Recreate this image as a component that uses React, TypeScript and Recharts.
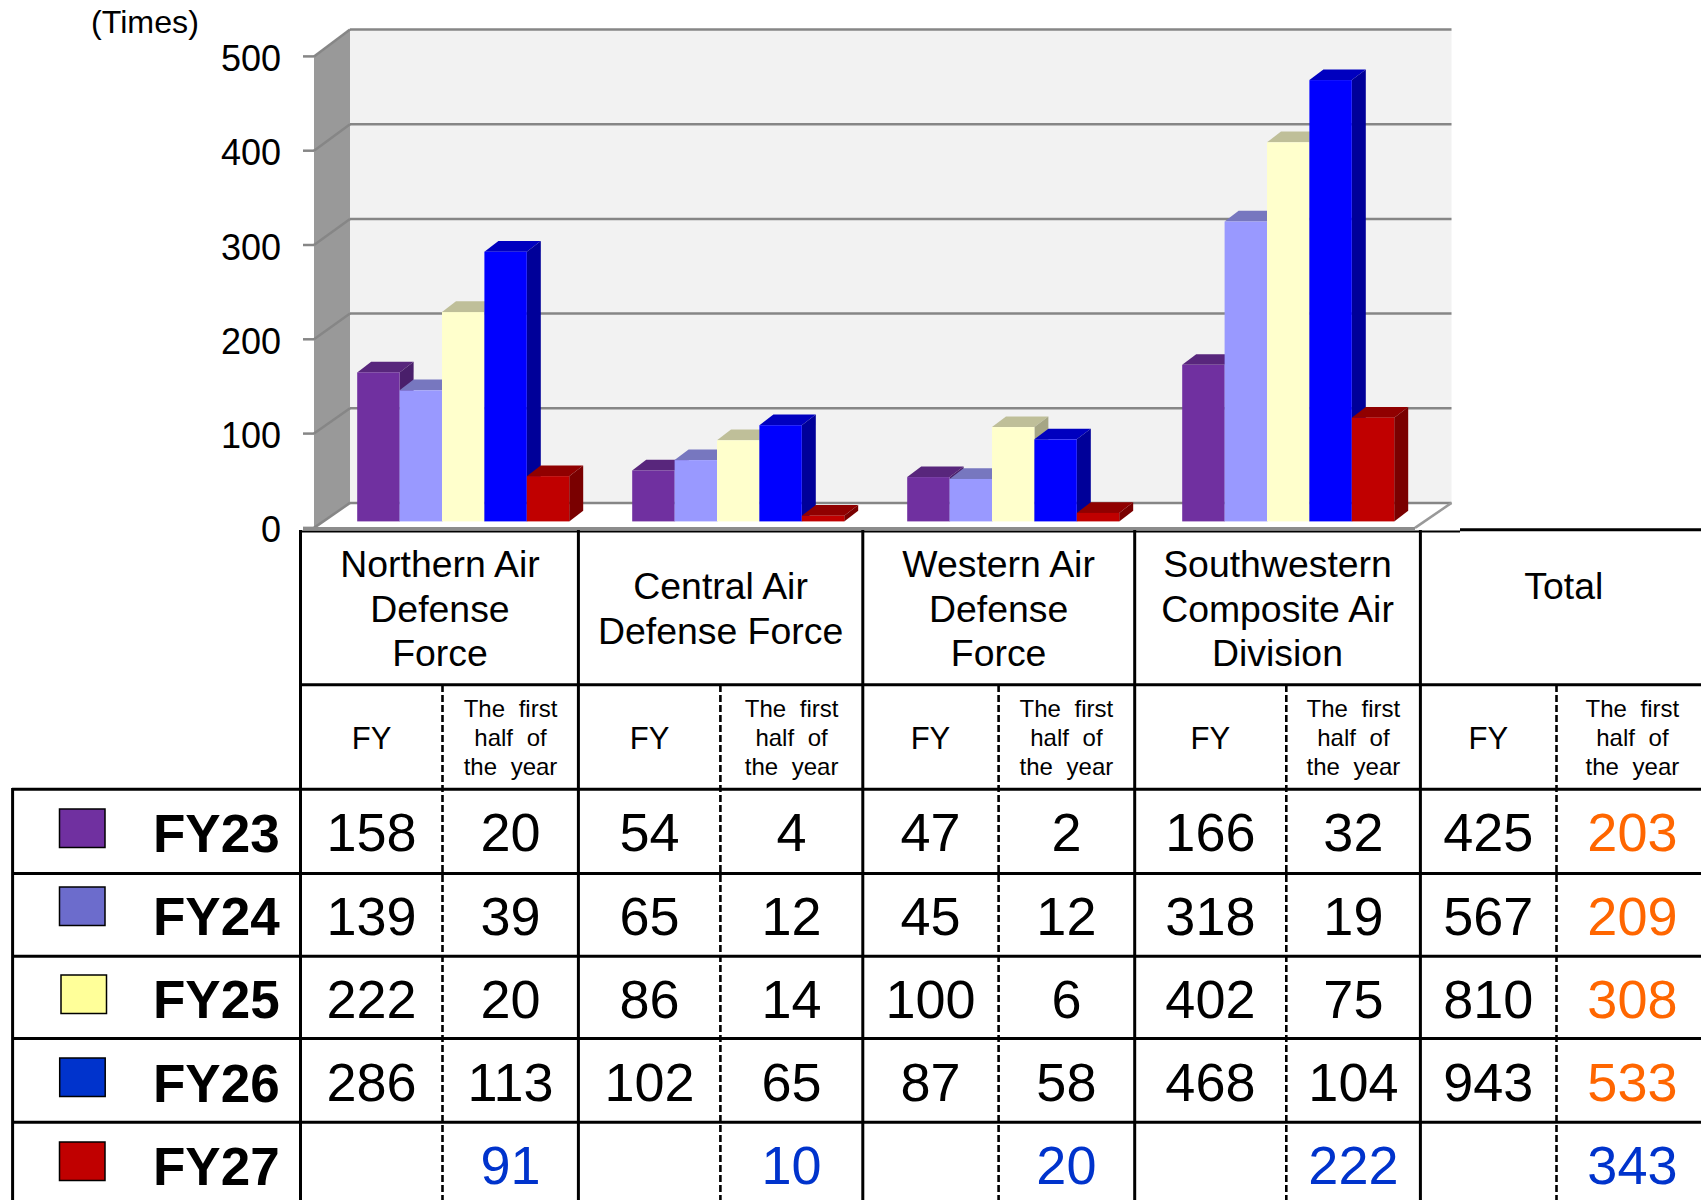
import { BarChart, Bar, XAxis, YAxis } from 'recharts';

const categories = ['Northern', 'Central', 'Western', 'Southwestern'];
const fy23 = [158, 54, 47, 166];
const fy24 = [139, 65, 45, 318];
const fy25 = [222, 86, 100, 402];
const fy26 = [286, 102, 87, 468];
const fy27 = [48, 6, 9, 110];
const yTicks = [0, 100, 200, 300, 400, 500];

const groupHeaders = [
  ['Northern Air', 'Defense', 'Force'],
  ['Central Air', 'Defense Force'],
  ['Western Air', 'Defense', 'Force'],
  ['Southwestern', 'Composite Air', 'Division'],
  ['Total'],
];
const halfLabel = ['The first', 'half of', 'the year'];
const rowLabels = ['FY23', 'FY24', 'FY25', 'FY26', 'FY27'];
const row23 = ['158', '20', '54', '4', '47', '2', '166', '32', '425', '203'];
const row24 = ['139', '39', '65', '12', '45', '12', '318', '19', '567', '209'];
const row25 = ['222', '20', '86', '14', '100', '6', '402', '75', '810', '308'];
const row26 = ['286', '113', '102', '65', '87', '58', '468', '104', '943', '533'];
const row27 = ['', '91', '', '10', '', '20', '', '222', '', '343'];
const tableRows = [row23, row24, row25, row26, row27];

const FONT = '"Liberation Sans", Arial, sans-serif';
const BLUE_TXT = '#0033cc';
const ORANGE_TXT = '#ff6600';

const data = categories.map((name, i) => ({
  name,
  fy23: fy23[i],
  fy24: fy24[i],
  fy25: fy25[i],
  fy26: fy26[i],
  fy27: fy27[i],
}));

// front, top and side colours of each series
const barColors = [
  { key: 'fy23', front: '#7030a0', top: '#58267c', side: '#4a1f6b' },
  { key: 'fy24', front: '#9999ff', top: '#7777bf', side: '#666699' },
  { key: 'fy25', front: '#ffffcc', top: '#bfbf99', side: '#a6a685' },
  { key: 'fy26', front: '#0000ff', top: '#0000bf', side: '#000099' },
  { key: 'fy27', front: '#c00000', top: '#900000', side: '#7a0000' },
];
const legendBoxes = [
  { x: 59.5, y: 809, fill: '#7030a0' },
  { x: 59.5, y: 887, fill: '#6c6ccc' },
  { x: 61, y: 975, fill: '#ffff99' },
  { x: 59.7, y: 1058, fill: '#0033cc' },
  { x: 59.5, y: 1142, fill: '#c00000' },
];

const DEPTH_X = 14;
const DEPTH_Y = 10.7;

const Bar3D = (props: any) => {
  const { x, y, width, height, colors } = props;
  const r = x + width;
  const b = y + height;
  return (
    <g>
      <polygon
        points={`${x},${y} ${x + DEPTH_X},${y - DEPTH_Y} ${r + DEPTH_X},${y - DEPTH_Y} ${r},${y}`}
        fill={colors.top}
      />
      <polygon
        points={`${r},${y} ${r + DEPTH_X},${y - DEPTH_Y} ${r + DEPTH_X},${b - DEPTH_Y} ${r},${b}`}
        fill={colors.side}
      />
      <rect x={x} y={y} width={width} height={height} fill={colors.front} />
    </g>
  );
};

// value axis labels sit on the front edge of the left wall
const YTick = (props: any) => {
  const { y, payload } = props;
  return (
    <text x={281} y={y + 21} textAnchor="end" fontSize={36} fontFamily={FONT} fill="#000">
      {payload.value}
    </text>
  );
};

// walls and floor of the 3d box
const Walls = () => {
  const frontY = (v: number) => 527.9 - v * 0.943;
  const backY = (v: number) => 502.9 - v * 0.9466;
  return (
    <svg width={1701} height={1200} style={{ position: 'absolute', left: 0, top: 0 }}>
      <polygon points={`350,${backY(500)} 1451.5,${backY(500)} 1451.5,${backY(0)} 350,${backY(0)}`} fill="#f2f2f2" />
      <polygon points={`314,${frontY(500)} 350,${backY(500)} 350,${backY(0)} 314,${frontY(0)}`} fill="#999999" />
      {yTicks.map((t) => (
        <g key={t} stroke="#868686" strokeWidth={2.5} fill="none">
          <line x1={303} y1={frontY(t)} x2={314} y2={frontY(t)} />
          <line x1={314} y1={frontY(t)} x2={350} y2={backY(t)} />
          <line x1={350} y1={backY(t)} x2={1451.5} y2={backY(t)} />
        </g>
      ))}
      <line x1={1415} y1={frontY(0)} x2={1451.5} y2={backY(0)} stroke="#999" strokeWidth={2.5} />
      <line x1={303} y1={528.5} x2={1415} y2={528.5} stroke="#8c8c8c" strokeWidth={3} />
    </svg>
  );
};

const solidX = [300.5, 578.4, 862.8, 1134.7, 1420.4];
const dashX = [442.5, 720.4, 998.6, 1286.3, 1556.5];
const rowY = [789.3, 873.4, 956.3, 1038.6, 1122.3];
const fyCenters = [371.6, 649.6, 930.5, 1210.4, 1488.3];
const halfCenters = [510.5, 791.6, 1066.4, 1353.4, 1632.4];
const groupCenters = [440, 720.6, 998.6, 1277.5, 1563.8];
const numBaseline = [851, 935, 1018, 1101, 1184];
const labelBaseline = [851.7, 935, 1018, 1102, 1185];

const Table = () => (
  <svg width={1701} height={1200} style={{ position: 'absolute', left: 0, top: 0 }} fontFamily={FONT}>
    <g stroke="#000" strokeWidth={3}>
      <line x1={300} y1={531.5} x2={1460} y2={531.5} strokeWidth={2} />
      <line x1={1460} y1={529.7} x2={1701} y2={529.7} />
      <line x1={300} y1={684.8} x2={1701} y2={684.8} />
      {rowY.map((y) => (
        <line key={y} x1={12} y1={y} x2={1701} y2={y} />
      ))}
      <line x1={12.6} y1={788} x2={12.6} y2={1200} />
      {solidX.map((x) => (
        <line key={x} x1={x} y1={530} x2={x} y2={1200} />
      ))}
      {dashX.map((x) => (
        <line key={x} x1={x} y1={685} x2={x} y2={1200} strokeWidth={2.6} strokeDasharray="7 3" />
      ))}
    </g>

    {groupHeaders.map((lines, g) => {
      const firstBase = lines.length === 3 ? 577 : 599;
      return lines.map((text, i) => (
        <text key={text} x={groupCenters[g]} y={firstBase + i * 44.6} textAnchor="middle" fontSize={37.4} fill="#000">
          {text}
        </text>
      ));
    })}

    {fyCenters.map((x) => (
      <text key={x} x={x} y={748.5} textAnchor="middle" fontSize={31} fill="#000">
        FY
      </text>
    ))}
    {halfCenters.map((x) =>
      halfLabel.map((text, i) => (
        <text key={text} x={x} y={717.3 + i * 29} textAnchor="middle" fontSize={24} wordSpacing={7} fill="#000">
          {text}
        </text>
      ))
    )}

    {legendBoxes.map((b) => (
      <rect key={b.y} x={b.x} y={b.y} width={45.5} height={38.5} fill={b.fill} stroke="#000" strokeWidth={1.5} />
    ))}
    {rowLabels.map((text, r) => (
      <text key={text} x={153} y={labelBaseline[r]} fontSize={53} fontWeight="bold" fill="#000">
        {text}
      </text>
    ))}

    {tableRows.map((row, r) =>
      row.map((text, c) => {
        const cx = c % 2 === 0 ? fyCenters[c / 2] : halfCenters[(c - 1) / 2];
        let color = '#000';
        if (r === 4) color = BLUE_TXT;
        else if (c === 9) color = ORANGE_TXT;
        return (
          <text key={c} x={cx} y={numBaseline[r]} textAnchor="middle" fontSize={54} fill={color}>
            {text}
          </text>
        );
      })
    )}

    <text x={91} y={32.5} fontSize={32.2} fill="#000">
      (Times)
    </text>
  </svg>
);

export default function App() {
  return (
    <div style={{ position: 'absolute', left: 0, top: 0, width: 1701, height: 1200, background: '#fff', overflow: 'hidden' }}>
      <Walls />
      <div style={{ position: 'absolute', left: 0, top: 0 }}>
        <BarChart
          width={1701}
          height={1200}
          data={data}
          barGap={0}
          barSize={42.4}
          margin={{ top: 49.9, right: 275.8, bottom: 678.6, left: 265.2 }}
        >
          <XAxis dataKey="name" hide />
          <YAxis
            width={60}
            domain={[0, 500]}
            ticks={yTicks}
            interval={0}
            axisLine={false}
            tickLine={false}
            tick={<YTick />}
          />
          {barColors.map((c) => (
            <Bar
              key={c.key}
              dataKey={c.key}
              isAnimationActive={false}
              fill={c.front}
              shape={(props: any) => <Bar3D {...props} colors={c} />}
            />
          ))}
        </BarChart>
      </div>
      <Table />
    </div>
  );
}
